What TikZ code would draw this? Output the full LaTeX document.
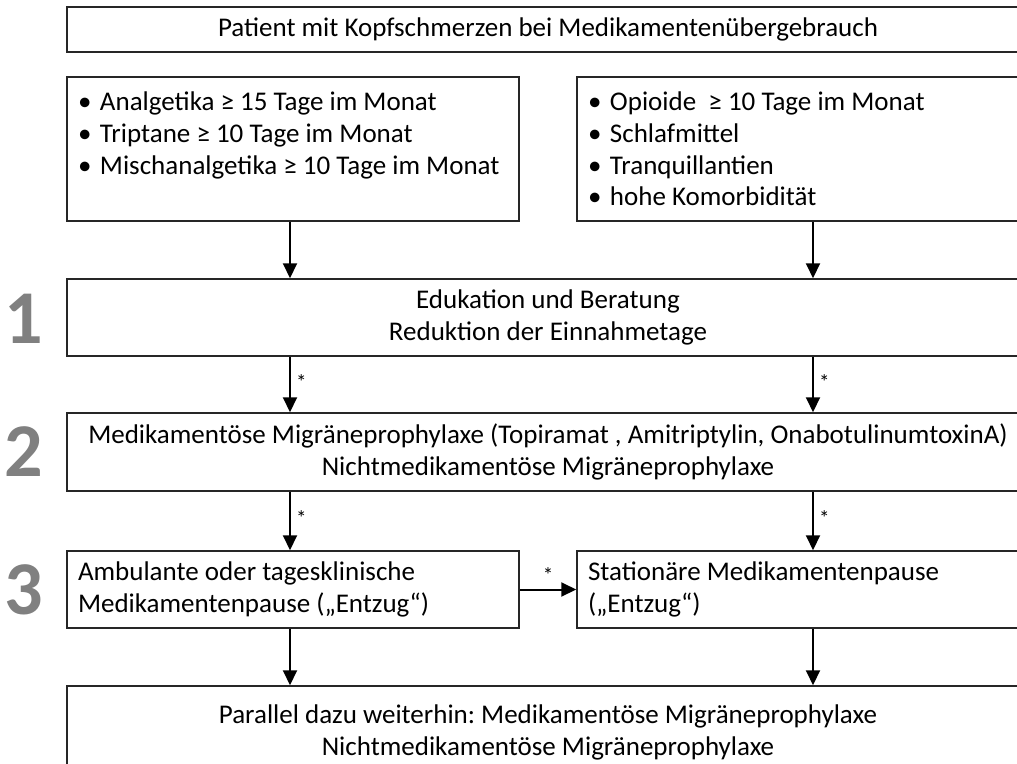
\documentclass[tikz,border=0pt]{standalone}
\usepackage{fontspec}
\setmainfont{Carlito}
\usetikzlibrary{arrows.meta,positioning}
\frenchspacing
\newcommand{\bul}{\makebox[22pt][l]{•}}

\begin{document}
\begin{tikzpicture}[x=1pt,y=-1pt,
box/.style={draw=black!85, line width=1.5pt, inner sep=0pt,
  font=\fontsize{27}{31.8}\selectfont, align=center},
wide/.style={box, minimum width=962pt},
half/.style={box, minimum width=452pt, text width=430pt, align=flush left},
stepno/.style={font=\fontsize{76}{76}\selectfont\bfseries, text=black!50},
flow/.style={line width=2pt, -{Triangle[width=14pt,length=15pt]}},
star/.style={font=\fontsize{21}{21}\selectfont, inner sep=2pt},
]
\useasboundingbox (0,0) rectangle (1017,763);
\clip (0,0) rectangle (1017,763);

\coordinate (colL) at (290,0);
\coordinate (colR) at (813,0);

\node[wide, minimum height=45pt] (head) at (548,29.5)
  {Patient mit Kopfschmerzen bei Medikamentenübergebrauch};
\node[half, minimum height=144pt] (critL) at (293,149)
  {\bul Analgetika ≥ 15 Tage im Monat\\
   \bul Triptane ≥ 10 Tage im Monat\\
   \bul Mischanalgetika ≥ 10 Tage im Monat\\
   \mbox{}};
\node[half, minimum height=144pt] (critR) at (803,149)
  {\bul Opioide\ \ ≥ 10 Tage im Monat\\
   \bul Schlafmittel\\
   \bul Tranquillantien\\
   \bul hohe Komorbidität};

\node[wide, minimum height=77pt] (edu) at (548,317.5)
  {Edukation und Beratung\\Reduktion der Einnahmetage};
\node[wide, minimum height=78pt] (proph) at (548,452)
  {Medikamentöse Migräneprophylaxe (Topiramat , Amitriptylin, OnabotulinumtoxinA)\\
   Nichtmedikamentöse Migräneprophylaxe};
\node[half, minimum height=77pt] (ambul) at (293,589.5)
  {Ambulante oder tagesklinische\\Medikamentenpause („Entzug“)};
\node[half, minimum height=77pt] (stat) at (803,589.5)
  {Stationäre Medikamentenpause\\(„Entzug“)};
\node[wide, minimum height=93pt] (final) at (548,732.5)
  {Parallel dazu weiterhin: Medikamentöse Migräneprophylaxe\\
   Nichtmedikamentöse Migräneprophylaxe};

% step numbers
\node[stepno] (n1) at (24,319) {1};
\node[stepno] (n2) at (24,452) {2};
\node[stepno] (n3) at (24,590) {3};

\draw[flow] (critL.south -| colL) -- (edu.north -| colL);
\draw[flow] (critR.south -| colR) -- (edu.north -| colR);
\draw[flow] (edu.south -| colL) -- node[star, pos=0.45, right=3pt] {*} (proph.north -| colL);
\draw[flow] (edu.south -| colR) -- node[star, pos=0.45, right=3pt] {*} (proph.north -| colR);
\draw[flow] (proph.south -| colL) -- node[star, pos=0.45, right=3pt] {*} (ambul.north -| colL);
\draw[flow] (proph.south -| colR) -- node[star, pos=0.45, right=3pt] {*} (stat.north -| colR);
\draw[flow] (ambul) -- node[star, above=4pt] {*} (stat);
\draw[flow] (ambul.south -| colL) -- (final.north -| colL);
\draw[flow] (stat.south -| colR) -- (final.north -| colR);
\end{tikzpicture}
\end{document}
